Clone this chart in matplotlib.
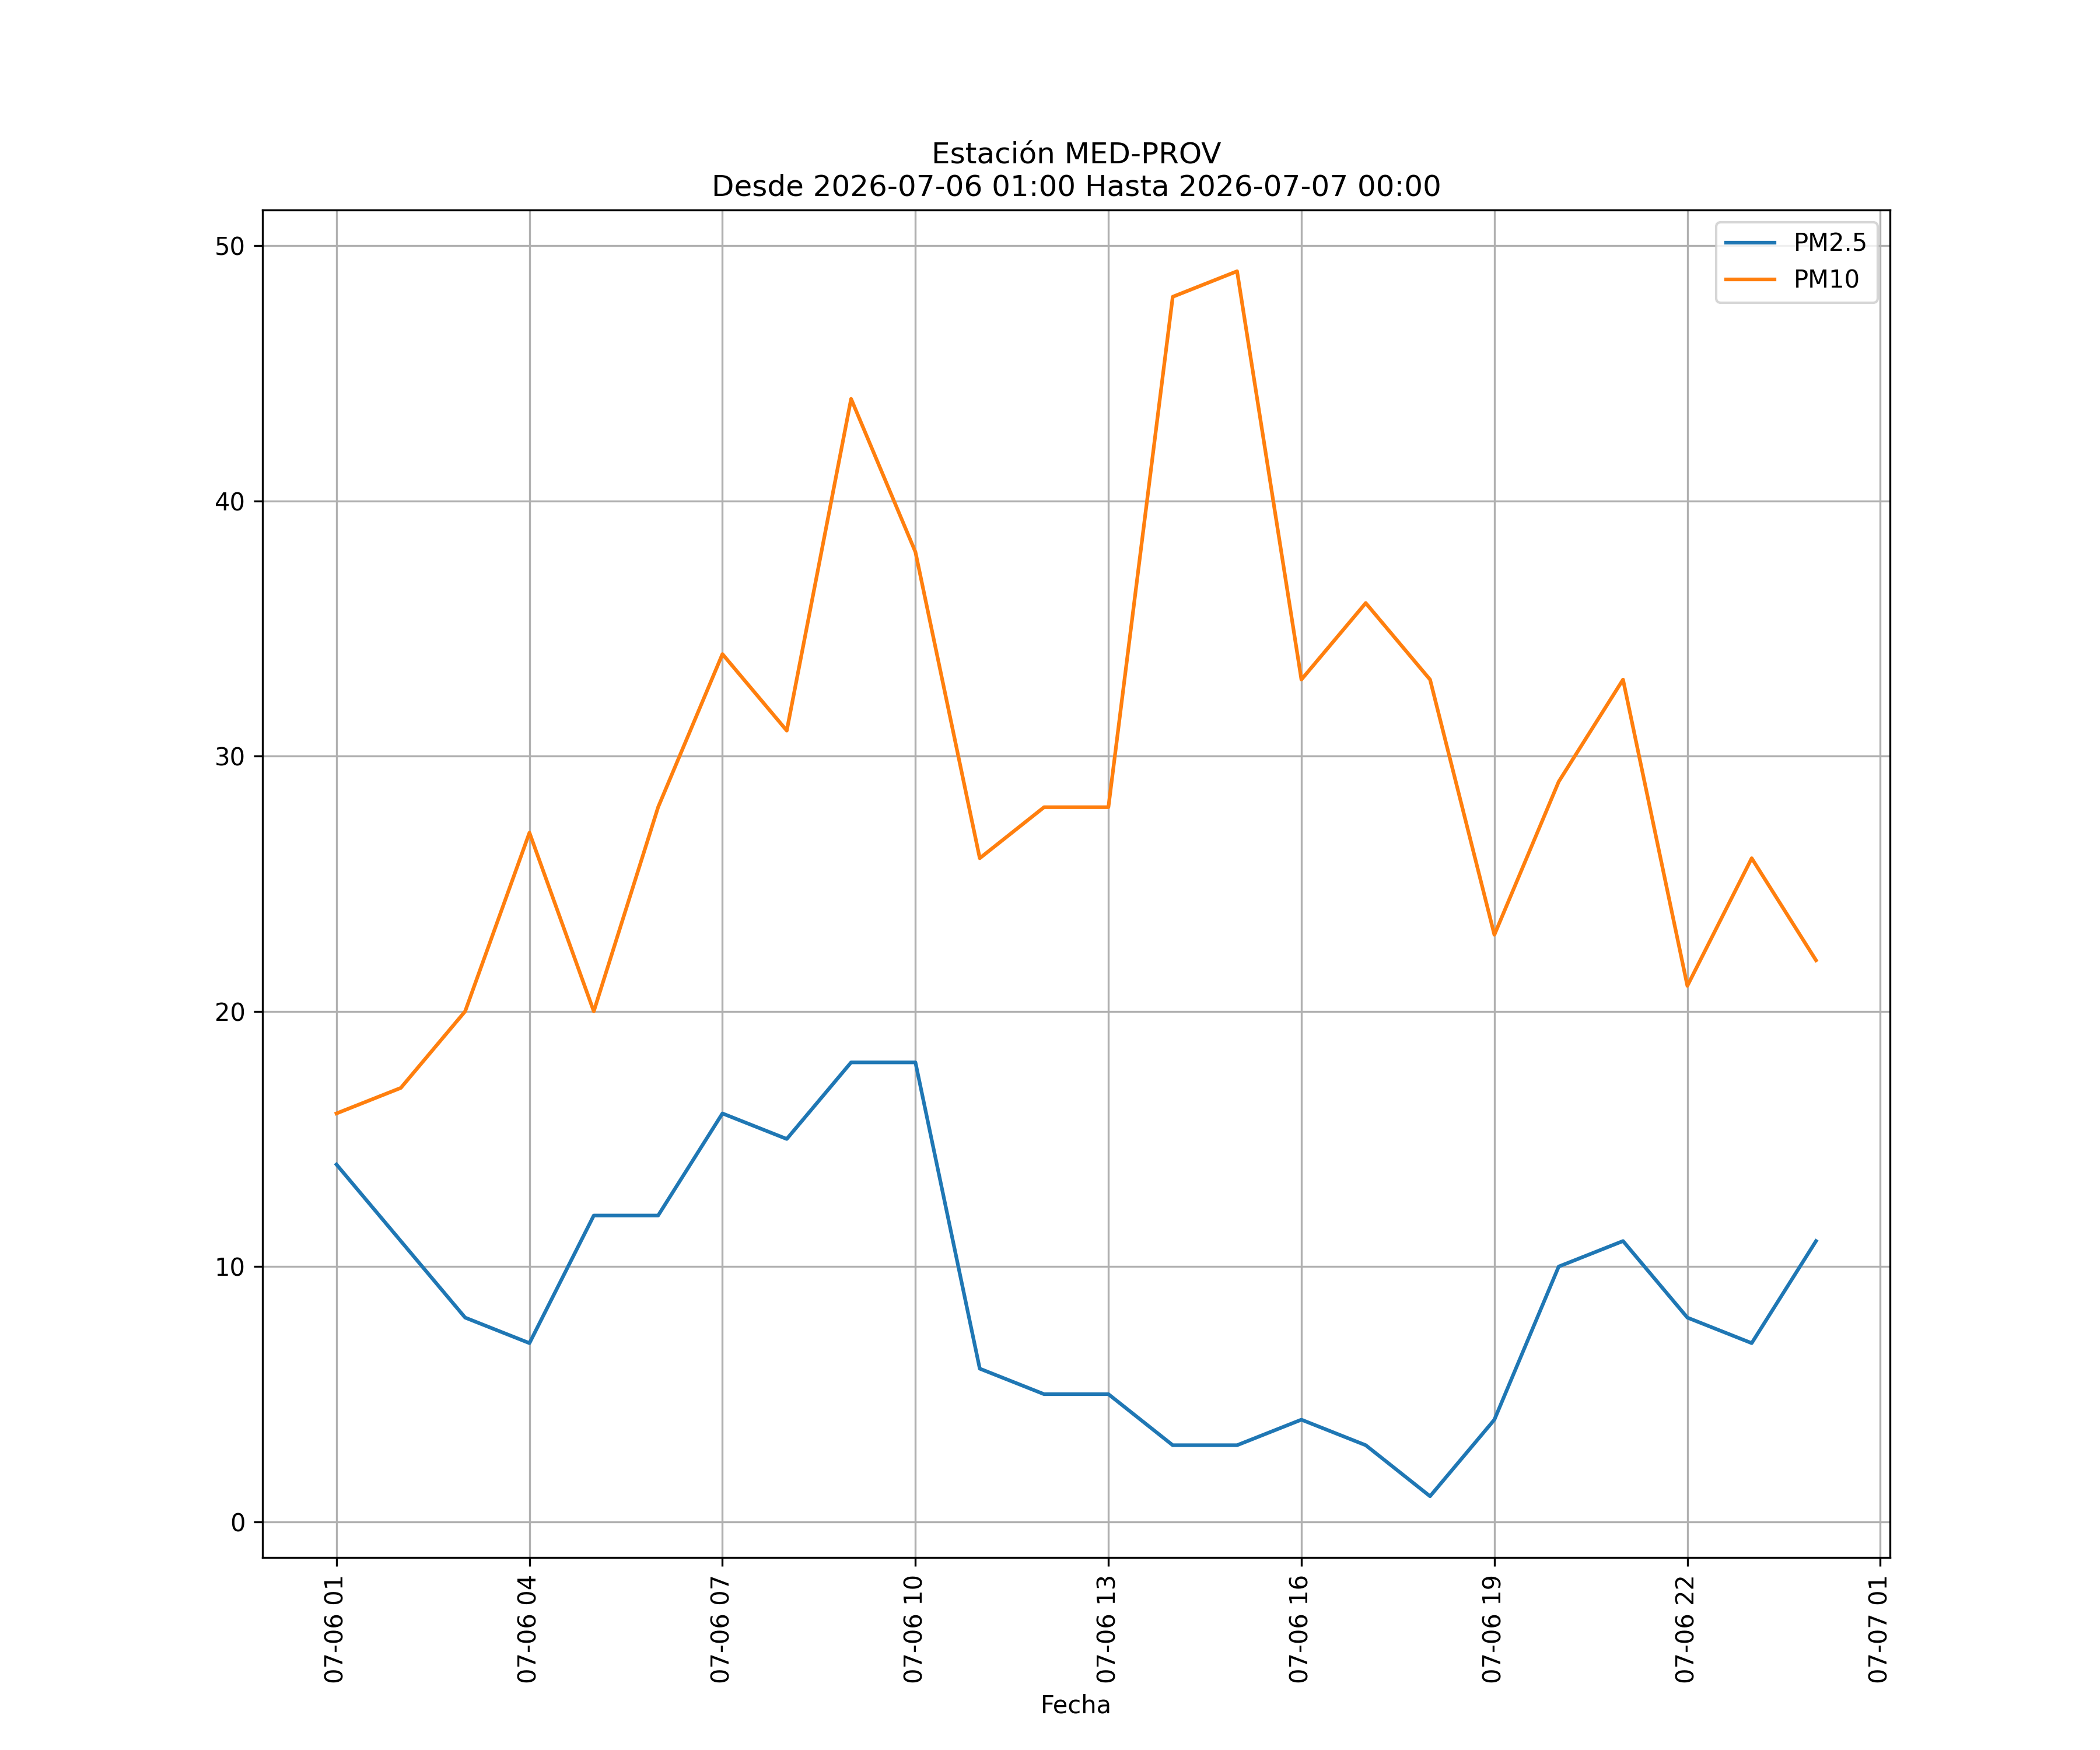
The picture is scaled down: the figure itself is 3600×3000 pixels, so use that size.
import matplotlib
matplotlib.use("Agg")
import matplotlib.pyplot as plt
import matplotlib.dates as mdates
import pandas as pd

fechas = pd.date_range("2026-07-06 01:00", "2026-07-07 00:00", freq="h")
pm25 = [14, 11, 8, 7, 12, 12, 16, 15, 18, 18, 6, 5, 5, 3, 3, 4, 3, 1, 4, 10, 11, 8, 7, 11]
pm10 = [16, 17, 20, 27, 20, 28, 34, 31, 44, 38, 26, 28, 28, 48, 49, 33, 36, 33, 23, 29, 33, 21, 26, 22]

fig, ax = plt.subplots(figsize=(12, 10), dpi=300)
ax.plot(fechas, pm25, label="PM2.5")
ax.plot(fechas, pm10, label="PM10")
ax.set_title("Estación MED-PROV\nDesde 2026-07-06 01:00 Hasta 2026-07-07 00:00")
ax.set_xlabel("Fecha")
ax.xaxis.set_major_locator(mdates.HourLocator(byhour=range(1, 24, 3)))
ax.xaxis.set_major_formatter(mdates.DateFormatter("%m-%d %H"))
plt.setp(ax.get_xticklabels(), rotation=90)
ax.grid(True)
ax.legend(loc="upper right")
fig.savefig("out.png", dpi=300)
